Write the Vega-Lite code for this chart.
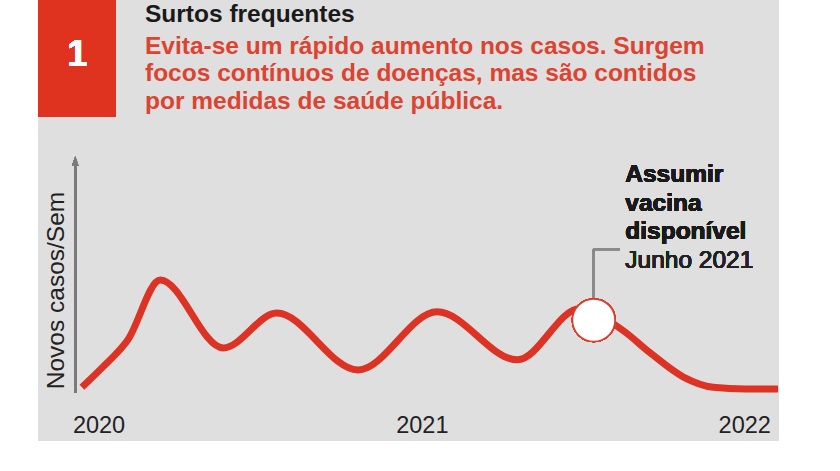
{
  "$schema": "https://vega.github.io/schema/vega-lite/v6.json",
  "width": 741,
  "height": 441,
  "autosize": {"type": "none"},
  "padding": {"left": 38, "top": 0, "right": 61, "bottom": 30},
  "background": "#ffffff",
  "config": {
    "view": {"fill": "#dfdfdf", "stroke": null},
    "font": "Liberation Sans",
    "axis": {"grid": false}
  },
  "title": {
    "text": "Surtos frequentes",
    "subtitle": [
      "Evita-se um rápido aumento nos casos. Surgem",
      "focos contínuos de doenças, mas são contidos",
      "por medidas de saúde pública."
    ],
    "anchor": "start",
    "frame": "group",
    "orient": "top",
    "offset": -114,
    "dx": 107,
    "font": "Liberation Sans",
    "fontSize": 24.5,
    "fontWeight": "bold",
    "color": "#1a1a1a",
    "subtitleFont": "Liberation Sans",
    "subtitleFontSize": 24.5,
    "subtitleFontWeight": "bold",
    "subtitleColor": "#dc4330",
    "subtitleLineHeight": 27.5,
    "subtitlePadding": 7.5
  },
  "datasets": {
    "curva": [
      {"data": "2020-01-11T00:00:00", "casos": 12.2},
      {"data": "2020-02-02T00:00:00", "casos": 16.8},
      {"data": "2020-02-28T00:00:00", "casos": 22.9},
      {"data": "2020-04-02T00:00:00", "casos": 36.5},
      {"data": "2020-06-07T00:00:00", "casos": 21.1},
      {"data": "2020-08-02T00:00:00", "casos": 29.0},
      {"data": "2020-10-26T00:00:00", "casos": 16.1},
      {"data": "2021-01-17T00:00:00", "casos": 29.3},
      {"data": "2021-04-11T00:00:00", "casos": 18.4},
      {"data": "2021-06-15T00:00:00", "casos": 30.0},
      {"data": "2021-07-31T00:00:00", "casos": 25.0},
      {"data": "2021-08-28T00:00:00", "casos": 20.0},
      {"data": "2021-10-02T00:00:00", "casos": 14.5},
      {"data": "2021-11-02T00:00:00", "casos": 12.2},
      {"data": "2021-12-06T00:00:00", "casos": 11.8},
      {"data": "2022-01-09T00:00:00", "casos": 11.8}
    ]
  },
  "data": {"name": "curva"},
  "layer": [
    {
      "mark": {"type": "rect", "color": "#e0331f"},
      "encoding": {
        "x": {"datum": {"year": 2019, "month": 11, "date": 26}, "type": "temporal"},
        "x2": {"datum": {"year": 2020, "month": 2, "date": 15}},
        "y": {"datum": 100, "type": "quantitative"},
        "y2": {"datum": 73.5}
      }
    },
    {
      "mark": {"type": "text", "text": "1", "color": "#ffffff", "fontSize": 36, "fontWeight": "bold", "font": "Liberation Sans", "align": "center", "baseline": "middle"},
      "encoding": {
        "x": {"datum": {"year": 2020, "month": 1, "date": 6}, "type": "temporal"},
        "y": {"datum": 87.5, "type": "quantitative"}
      }
    },
    {
      "mark": {"type": "rule", "color": "#7b7b7b", "strokeWidth": 2},
      "encoding": {
        "x": {"datum": {"year": 2020, "month": 1, "date": 4}, "type": "temporal"},
        "y": {"datum": 10.9, "type": "quantitative"},
        "y2": {"datum": 62.6}
      }
    },
    {
      "mark": {"type": "point", "shape": "M-0.35,0.5L0,-0.5L0.35,0.5Z", "filled": true, "color": "#7b7b7b", "opacity": 1, "size": 324},
      "encoding": {
        "x": {"datum": {"year": 2020, "month": 1, "date": 4}, "type": "temporal"},
        "y": {"datum": 63.5, "type": "quantitative"}
      }
    },
    {
      "mark": {"type": "line", "color": "#dc3324", "strokeWidth": 7, "interpolate": "monotone", "strokeCap": "butt"},
      "encoding": {
        "x": {
          "field": "data",
          "type": "temporal",
          "scale": {"domain": [{"year": 2019, "month": 11, "date": 26}, {"year": 2022, "month": 1, "date": 10}], "nice": false},
          "axis": {
            "values": [{"year": 2020, "month": 1, "date": 1}, {"year": 2021, "month": 1, "date": 1}, {"year": 2022, "month": 1, "date": 1}],
            "format": "%Y",
            "labelAlign": {"expr": "year(datum.value) == 2020 ? 'left' : year(datum.value) == 2022 ? 'right' : 'center'"},
            "labelFlush": false,
            "domain": false,
            "ticks": false,
            "labelPadding": 0,
            "offset": -28,
            "labelFontSize": 23.5,
            "labelFont": "Liberation Sans",
            "labelColor": "#222222",
            "labelBaseline": "top",
            "title": null
          }
        },
        "y": {
          "field": "casos",
          "type": "quantitative",
          "scale": {"domain": [0, 100], "nice": false, "zero": true},
          "axis": {
            "orient": "left",
            "offset": -37,
            "domain": false,
            "ticks": false,
            "labels": false,
            "title": "Novos casos/Sem",
            "titleFont": "Liberation Sans",
            "titleFontSize": 24.5,
            "titleFontWeight": "normal",
            "titleColor": "#222222",
            "titlePadding": 7,
            "titleY": 290
          }
        }
      }
    },
    {
      "mark": {"type": "rule", "color": "#8a8a8a", "strokeWidth": 2},
      "encoding": {
        "x": {"datum": {"year": 2021, "month": 6, "date": 30}, "type": "temporal"},
        "y": {"datum": 27.4, "type": "quantitative"},
        "y2": {"datum": 43.5}
      }
    },
    {
      "mark": {"type": "rule", "color": "#8a8a8a", "strokeWidth": 2},
      "encoding": {
        "x": {"datum": {"year": 2021, "month": 6, "date": 30}, "type": "temporal"},
        "x2": {"datum": {"year": 2021, "month": 7, "date": 27}},
        "y": {"datum": 43.5, "type": "quantitative"}
      }
    },
    {
      "mark": {"type": "point", "shape": "circle", "filled": true, "fill": "#ffffff", "stroke": "#d84030", "strokeWidth": 1.5, "opacity": 1, "size": 1810},
      "encoding": {
        "x": {"datum": {"year": 2021, "month": 6, "date": 30}, "type": "temporal"},
        "y": {"datum": 27.4, "type": "quantitative"}
      }
    },
    {
      "mark": {"type": "text", "text": ["Assumir", "vacina", "disponível"], "font": "Liberation Sans", "fontSize": 24.5, "fontWeight": "bold", "color": "#1a1a1a", "align": "left", "baseline": "alphabetic", "lineHeight": 28.5},
      "encoding": {
        "x": {"datum": {"year": 2021, "month": 8, "date": 2}, "type": "temporal"},
        "y": {"datum": 58.7, "type": "quantitative"}
      }
    },
    {
      "mark": {"type": "text", "text": "Junho 2021", "font": "Liberation Sans", "fontSize": 24.5, "color": "#222222", "align": "left", "baseline": "alphabetic"},
      "encoding": {
        "x": {"datum": {"year": 2021, "month": 8, "date": 2}, "type": "temporal"},
        "y": {"datum": 39.2, "type": "quantitative"}
      }
    }
  ]
}
